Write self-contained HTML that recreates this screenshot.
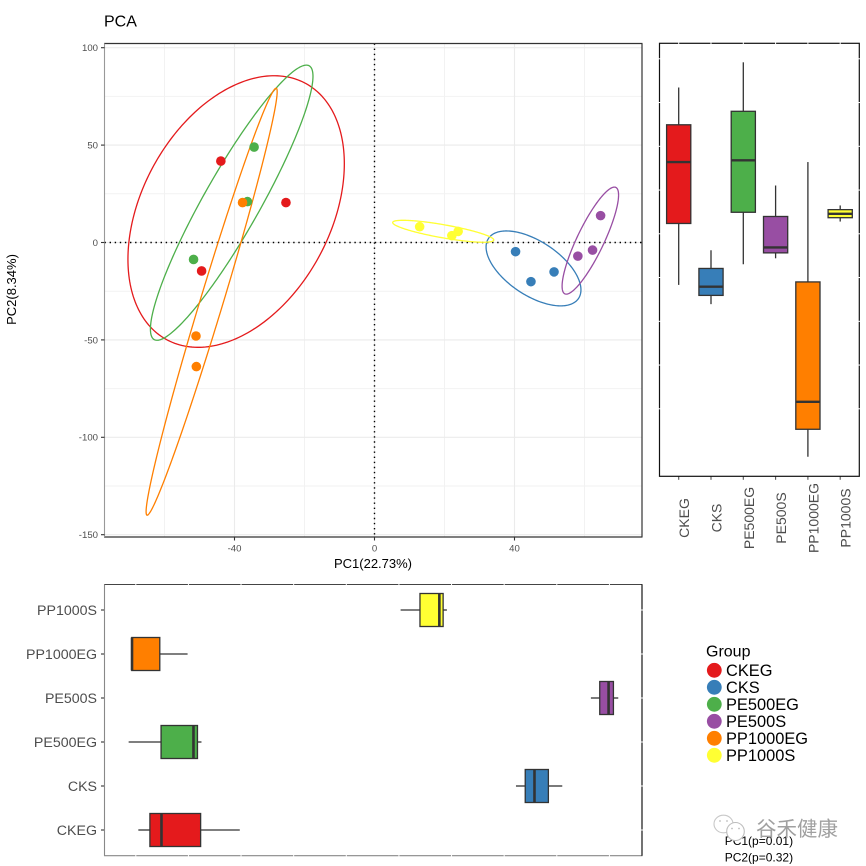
<!DOCTYPE html>
<html>
<head>
<meta charset="utf-8">
<title>PCA</title>
<style>
html,body{margin:0;padding:0;background:#fff;}
svg{display:block;font-family:"Liberation Sans","Noto Sans CJK SC",sans-serif;}
</style>
</head>
<body>
<svg id="chart" xmlns="http://www.w3.org/2000/svg" width="866" height="866" viewBox="0 0 866 866"></svg>
<script>
const groups = ['CKEG', 'CKS', 'PE500EG', 'PE500S', 'PP1000EG', 'PP1000S'];
const groupColors = ['#E41A1C', '#377EB8', '#4DAF4A', '#984EA3', '#FF7F00', '#FFFF33'];
const ckegPC1 = [-43.9, -25.3, -49.4];
const ckegPC2 = [41.8, 20.5, -14.6];
const cksPC1 = [40.3, 44.7, 51.3];
const cksPC2 = [-4.7, -20.1, -15.1];
const pe500egPC1 = [-34.4, -36.3, -51.7];
const pe500egPC2 = [49, 21, -8.7];
const pe500sPC1 = [64.6, 62.3, 58.1];
const pe500sPC2 = [13.8, -3.9, -7];
const pp1000egPC1 = [-37.7, -51, -50.9];
const pp1000egPC2 = [20.5, -48, -63.7];
const pp1000sPC1 = [12.9, 23.9, 22.1];
const pp1000sPC2 = [8.1, 5.7, 3.5];
const xTicksMajor = [-40, 0, 40];
const xGridMinor = [-60, -20, 20, 60];
const yTicksMajor = [100, 50, 0, -50, -100, -150];
const yGridMinor = [75, 25, -25, -75, -125];
const marginalTicks = [-50, -37.5, -25, -12.5, 0, 12.5, 25, 37.5, 50, 62.5];
const pc1Label = 'PC1(22.73%)';
const pc2Label = 'PC2(8.34%)';
const pValues = ['PC1(p=0.01)', 'PC2(p=0.32)'];

const pc1Series = [ckegPC1, cksPC1, pe500egPC1, pe500sPC1, pp1000egPC1, pp1000sPC1];
const pc2Series = [ckegPC2, cksPC2, pe500egPC2, pe500sPC2, pp1000egPC2, pp1000sPC2];

const svg = document.getElementById('chart');
const NS = 'http://www.w3.org/2000/svg';
function mk(tag, attrs, text) {
  const el = document.createElementNS(NS, tag);
  for (const k in attrs) el.setAttribute(k, attrs[k]);
  if (text !== undefined) el.textContent = text;
  svg.appendChild(el);
  return el;
}
function line(x1, y1, x2, y2, stroke, w, dash) {
  const a = {x1: x1, y1: y1, x2: x2, y2: y2, stroke: stroke, 'stroke-width': w};
  if (dash) a['stroke-dasharray'] = dash;
  return mk('line', a);
}
function mean(v) { return v.reduce((a, b) => a + b, 0) / v.length; }
function quant(v, p) {
  const s = v.slice().sort((a, b) => a - b);
  const h = (s.length - 1) * p, lo = Math.floor(h), hi = Math.ceil(h);
  return s[lo] + (s[hi] - s[lo]) * (h - lo);
}

/* scales */
const mainX = v => 374.5 + v * 3.5;
const mainY = v => 242.5 - v * 1.948;
const bottomX = v => 346.3 + v * 4.21;
const bottomCat = i => 830 - i * 44;
const rightY = v => 233.8 - v * 3.5;
const rightCat = i => 678.7 + i * 32.3;

const P = {l: 104.5, r: 642, t: 43.5, b: 537};
const B = {l: 104.5, r: 642, t: 584.5, b: 855.7};
const R = {l: 659.5, r: 859.3, t: 43.3, b: 476.3};

/* title */
let el = mk('text', {x: 104, y: 26.5, 'font-size': 16, fill: '#000'}, 'PCA');



/* main panel grid */
yGridMinor.forEach(v => {
  el = line(P.l, mainY(v), P.r, mainY(v), '#f2f2f2', 1);
  
  
});
xGridMinor.forEach(v => {
  el = line(mainX(v), P.t, mainX(v), P.b, '#f2f2f2', 1);
  
  
});
yTicksMajor.forEach(v => {
  el = line(P.l, mainY(v), P.r, mainY(v), '#ebebeb', 1.1);
  
  
});
xTicksMajor.forEach(v => {
  el = line(mainX(v), P.t, mainX(v), P.b, '#ebebeb', 1.1);
  
  
});

/* zero reference lines */
el = line(P.l, mainY(0), P.r, mainY(0), '#000', 1.4, '1.4 3.7');


el = line(mainX(0), P.t, mainX(0), P.b, '#000', 1.4, '1.4 3.7');



/* ellipses: 95% normal ellipse computed from each group's points */
const ellipseRadius = Math.sqrt(5.991);
groups.forEach((g, i) => {
  const xs = pc1Series[i], ys = pc2Series[i];
  const mx = mean(xs), my = mean(ys), n = xs.length;
  let sxx = 0, syy = 0, sxy = 0;
  xs.forEach((x, k) => {
    sxx += (x - mx) * (x - mx);
    syy += (ys[k] - my) * (ys[k] - my);
    sxy += (x - mx) * (ys[k] - my);
  });
  sxx /= n - 1; syy /= n - 1; sxy /= n - 1;
  const l11 = Math.sqrt(sxx), l21 = sxy / l11, l22 = Math.sqrt(Math.max(syy - l21 * l21, 0));
  let d = '';
  for (let k = 0; k <= 240; k++) {
    const a = k / 240 * 2 * Math.PI, c = Math.cos(a), s = Math.sin(a);
    const ex = mx + ellipseRadius * l11 * c;
    const ey = my + ellipseRadius * (l21 * c + l22 * s);
    d += (k ? 'L' : 'M') + mainX(ex).toFixed(2) + ' ' + mainY(ey).toFixed(2);
  }
  el = mk('path', {d: d + 'Z', fill: 'none', stroke: groupColors[i], 'stroke-width': 1.3});
  
  
});

/* points */
groups.forEach((g, i) => {
  pc1Series[i].forEach((x, k) => {
    el = mk('circle', {cx: mainX(x), cy: mainY(pc2Series[i][k]), r: 4.8, fill: groupColors[i]});
    
    
  });
});

/* main panel border */
el = line(P.l - 0.4, P.t, P.r + 0.5, P.t, '#333', 1.2);


el = line(P.l - 0.4, P.b, P.r + 0.5, P.b, '#333', 1.2);


el = line(P.r, P.t, P.r, P.b, '#333', 1.2);


el = line(P.l, P.t, P.l, P.b, '#999', 1.1);



/* main axis ticks and labels */
yTicksMajor.forEach(v => {
  el = line(P.l - 3.5, mainY(v), P.l, mainY(v), '#333', 1.1);
  
  
  el = mk('text', {x: 98, y: mainY(v) + 3.4, 'font-size': 9.6, fill: '#4d4d4d', 'text-anchor': 'end'}, String(v));
  
  
});
xTicksMajor.forEach(v => {
  el = line(mainX(v), P.b, mainX(v), P.b + 3.5, '#333', 1.1);
  
  
  el = mk('text', {x: mainX(v), y: 551.5, 'font-size': 9.6, fill: '#4d4d4d', 'text-anchor': 'middle'}, String(v));
  
  
});
el = mk('text', {x: 373, y: 568, 'font-size': 13, fill: '#000', 'text-anchor': 'middle'}, pc1Label);


el = mk('text', {x: 0, y: 0, 'font-size': 13, fill: '#000', 'text-anchor': 'middle', transform: 'translate(16 289.5) rotate(-90)'}, pc2Label);



/* bottom marginal boxplot (PC1) */
groups.forEach((g, i) => {
  const v = pc1Series[i], c = bottomCat(i), h = 16.5;
  const q0 = bottomX(quant(v, 0)), q1 = bottomX(quant(v, .25)), q2 = bottomX(quant(v, .5)), q3 = bottomX(quant(v, .75)), q4 = bottomX(quant(v, 1));
  el = line(q0, c, q1, c, '#333', 1.3);
  
  
  el = line(q3, c, q4, c, '#333', 1.3);
  
  
  el = mk('rect', {x: q1, y: c - h, width: q3 - q1, height: 2 * h, fill: groupColors[i], stroke: '#333', 'stroke-width': 1.3});
  
  
  el = line(q2, c - h, q2, c + h, '#333', 2.6);
  
  
  el = line(B.l - 3.5, c, B.l, c, '#333', 1.1);
  
  
  el = mk('text', {x: 97, y: c + 5, 'font-size': 14.2, fill: '#4d4d4d', 'text-anchor': 'end'}, g);
  
  
});
el = line(B.l - 0.4, B.t, B.r + 0.5, B.t, '#444', 1.1);


el = line(B.l - 0.4, B.b, B.r + 0.5, B.b, '#888', 1.2);


el = line(B.l, B.t, B.l, B.b, '#888', 1.1);


el = line(B.r, B.t, B.r, B.b, '#000', 1.1);


marginalTicks.forEach(v => {
  [B.t, B.b].forEach(y => {
    el = line(bottomX(v), y - 1, bottomX(v), y + 1, '#fff', 1);
    
    
  });
});
groups.forEach((g, i) => {
  el = line(B.r - 1, bottomCat(i), B.r + 1, bottomCat(i), '#fff', 1);
  
  
});

/* right marginal boxplot (PC2) */
groups.forEach((g, i) => {
  const v = pc2Series[i], c = rightCat(i), w = 12.1;
  const q0 = rightY(quant(v, 0)), q1 = rightY(quant(v, .25)), q2 = rightY(quant(v, .5)), q3 = rightY(quant(v, .75)), q4 = rightY(quant(v, 1));
  el = line(c, q0, c, q1, '#333', 1.3);
  
  
  el = line(c, q3, c, q4, '#333', 1.3);
  
  
  el = mk('rect', {x: c - w, y: q3, width: 2 * w, height: q1 - q3, fill: groupColors[i], stroke: '#333', 'stroke-width': 1.3});
  
  
  el = line(c - w, q2, c + w, q2, '#333', 2.4);
  
  
  el = line(c, R.b, c, R.b + 3.5, '#555', 1.1);
  
  
  el = mk('text', {x: 0, y: 0, 'font-size': 14, fill: '#4d4d4d', 'text-anchor': 'middle', transform: 'translate(' + (c + 10.5) + ' 518) rotate(-90)'}, g);
  
  
});
el = mk('rect', {x: R.l, y: R.t, width: R.r - R.l, height: R.b - R.t, fill: 'none', stroke: '#111', 'stroke-width': 1.2});


groups.forEach((g, i) => {
  el = line(rightCat(i), R.t - 1, rightCat(i), R.t + 1, '#fff', 1);
  
  
});
marginalTicks.forEach(v => {
  [R.l, R.r].forEach(x => {
    el = line(x - 1, rightY(v), x + 1, rightY(v), '#fff', 1);
    
    
  });
});

/* legend */
el = mk('text', {x: 706, y: 656.5, 'font-size': 16, fill: '#000'}, 'Group');


groups.forEach((g, i) => {
  const y = 670.3 + i * 17;
  el = mk('circle', {cx: 714.3, cy: y, r: 7.4, fill: groupColors[i]});
  
  
  el = mk('text', {x: 726, y: y + 5.8, 'font-size': 16.4, fill: '#000'}, g);
  
  
});

/* p-value annotations */
pValues.forEach((t, i) => {
  el = mk('text', {x: 724.7, y: 845 + i * 16.7, 'font-size': 12, fill: '#000'}, t);
  
  
});

/* watermark */
el = mk('ellipse', {cx: 723.5, cy: 824, rx: 9.5, ry: 8.8, fill: '#fff', stroke: '#c8c8c8', 'stroke-width': 1.1});


el = mk('ellipse', {cx: 735.5, cy: 831.5, rx: 8.8, ry: 9, fill: '#fff', stroke: '#bdbdbd', 'stroke-width': 1.1});


[[720, 821], [727, 821], [732, 828.5], [739, 828.5]].forEach(p => {
  el = mk('circle', {cx: p[0], cy: p[1], r: 0.9, fill: '#bdbdbd'});
  
  
});
el = mk('text', {x: 756, y: 836, 'font-size': 20.5, fill: '#a0a0a0', 'font-family': '"Noto Sans CJK SC","WenQuanYi Zen Hei",sans-serif'}, '谷禾健康');


</script>
</body>
</html>
